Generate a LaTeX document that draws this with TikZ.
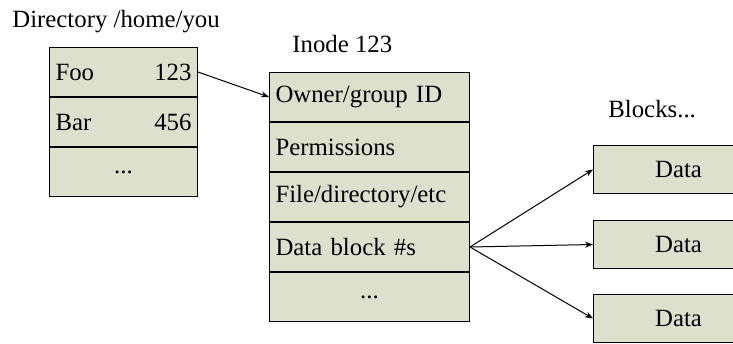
\documentclass[tikz,border=0pt]{standalone}
\usepackage{fontspec}
\setmainfont{Liberation Serif}
\usetikzlibrary{arrows.meta,calc,positioning}
\definecolor{cellfill}{RGB}{221,224,204}
\tikzset{
	cell/.style={draw, line width=0.5pt, fill=cellfill, minimum height=24.5pt, anchor=north west, inner xsep=3pt, font=\fontsize{12.4}{14}\selectfont},
	dircell/.style={cell, text width=68pt, align=left},
	inodecell/.style={cell, text width=94pt, align=left},
	datacell/.style={cell, minimum width=85pt, minimum height=24pt},
	caption/.style={anchor=base west, inner sep=0pt, font=\fontsize{12.4}{14}\selectfont},
	link/.style={-{Stealth[length=4pt,width=3pt]}, line width=0.5pt},
}
\begin{document}
\begin{tikzpicture}[x=0.5pt,y=-0.5pt]
	\useasboundingbox (0,0) rectangle (733,343);
	% directory
	\node (dirtitle) at (12,27) [caption] {Directory /home/you};
	\node (foo) at (49,47) [dircell] {Foo\hfill 123};
	\node (bar) at (foo.south west) [dircell] {Bar\hfill 456};
	\node (dirmore) at (bar.south west) [dircell, align=center] {...};
	% inode
	\node (inodetitle) at (292,52) [caption] {Inode 123};
	\node (owner) at (269,72) [inodecell] {Owner/group ID};
	\node (perms) at (owner.south west) [inodecell] {Permissions};
	\node (ftype) at (perms.south west) [inodecell] {File/directory/etc};
	\node (blocks) at (ftype.south west) [inodecell] {Data block \#s};
	\node (inodemore) at (blocks.south west) [inodecell, align=center] {...};
	% data blocks
	\node (blktitle) at (608,117) [caption] {Blocks...};
	\node (data1) at (593,145) [datacell] {Data};
	\node (data2) at (593,220) [datacell] {Data};
	\node (data3) at (593,294) [datacell] {Data};

	\draw[link] (foo.east) -- (owner.west);
	\draw[link] (blocks.east) -- (data1.west);
	\draw[link] (blocks.east) -- (data2.west);
	\draw[link] (blocks.east) -- (data3.west);
\end{tikzpicture}
\end{document}
